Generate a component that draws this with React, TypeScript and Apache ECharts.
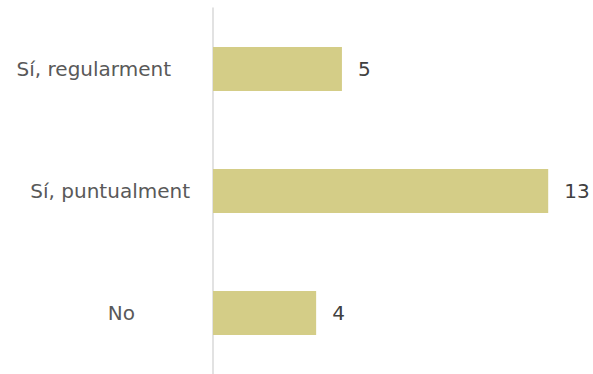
import React, { useEffect, useRef } from "react";
import * as echarts from "echarts";

const categories = ["Sí, regularment", "Sí, puntualment", "No"];
const values = [5, 13, 4];
const labelPads = [19, 0, 55];

export default function App() {
  const ref = useRef<HTMLDivElement>(null);
  useEffect(() => {
    if (!ref.current) return;
    const chart = echarts.init(ref.current, null, { renderer: "svg" });
    const rich: Record<string, any> = {};
    labelPads.forEach((p, i) => {
      rich["l" + i] = {
        fontFamily: "DejaVu Sans",
        fontSize: 20,
        color: "#595959",
        padding: [0, p, 0, 0],
      };
    });
    chart.setOption({
      animation: false,
      grid: { left: 213, right: 19, top: 8, bottom: 0, containLabel: false },
      xAxis: {
        type: "value",
        min: 0,
        max: 14,
        show: false,
      },
      yAxis: {
        type: "category",
        data: categories,
        inverse: true,
        axisLine: { show: true, lineStyle: { color: "#d9d9d9", width: 1.5 } },
        axisTick: { show: false },
        axisLabel: {
          margin: 23,
          formatter: (v: string) => {
            const i = categories.indexOf(v);
            return `{l${i}|${v}}`;
          },
          rich,
        },
        splitLine: { show: false },
      },
      series: [
        {
          type: "bar",
          data: values,
          barWidth: 44,
          itemStyle: { color: "#d4cd87" },
          label: {
            show: true,
            position: "right",
            distance: 16,
            fontFamily: "DejaVu Sans",
            fontSize: 20,
            color: "#404040",
          },
        },
      ],
    });
    return () => chart.dispose();
  }, []);
  return <div ref={ref} style={{ width: 593, height: 374, position: "absolute", left: 0, top: 0 }} />;
}
